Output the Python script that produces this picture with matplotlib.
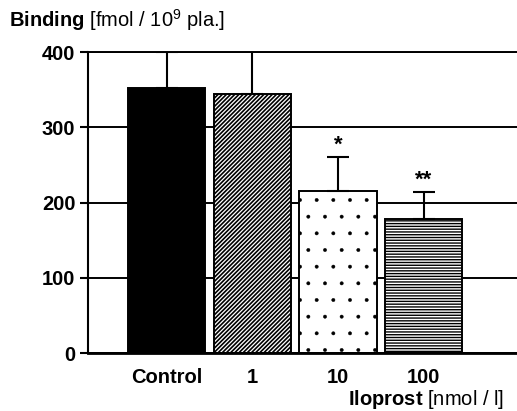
import numpy as np
import matplotlib
matplotlib.use("Agg")
import matplotlib.pyplot as plt

plt.rcParams['font.family'] = ['Liberation Sans', 'DejaVu Sans']
plt.rcParams['mathtext.fontset'] = 'custom'
plt.rcParams['mathtext.rm'] = 'Liberation Sans'
plt.rcParams['mathtext.bf'] = 'Liberation Sans:bold'
plt.rcParams['hatch.linewidth'] = 1.2

# data
groups = ['Control', '1', '10', '100']
binding = [353, 345, 215, 178]
sem_up = [47, 60, 45, 36]
signif = ['', '', '*', '**']
hatches = [None, '////////', '.', '------']
faces = ['black', 'white', 'white', 'white']

fig = plt.figure(figsize=(5.17, 4.11), dpi=100)
ax = fig.add_axes([0.170, 0.141, 0.830, 0.732])

x = np.arange(len(groups))
ax.set_axisbelow(True)
ax.yaxis.grid(True, color='black', linewidth=1.4)

bars = ax.bar(x, binding, width=0.9, color=faces, edgecolor='black',
              linewidth=1.4, zorder=2)
for b, h in zip(bars, hatches):
    if h:
        b.set_hatch(h)
# smaller dots for the stippled bar
if hasattr(bars[2], 'set_hatch_linewidth'):
    bars[2].set_hatch_linewidth(0.3)
    bars[3].set_hatch_linewidth(1.0)

ax.errorbar(x, binding, yerr=[np.zeros(len(x)), sem_up], fmt='none',
            ecolor='black', elinewidth=1.5, capsize=8, capthick=1.5, zorder=3)

for xi, yi, e, s in zip(x, binding, sem_up, signif):
    if s:
        ax.text(xi, yi + e + 2, s, ha='center', va='bottom',
                fontsize=16, fontweight='bold')

ax.set_xlim(-0.92, 4.09)
ax.set_ylim(0, 400)
ax.set_yticks([0, 100, 200, 300, 400])
ax.set_xticks(x)
ax.set_xticklabels(groups, fontsize=14.5, fontweight='bold')
for lab in ax.get_yticklabels():
    lab.set_fontweight('bold')
ax.tick_params(axis='y', length=6, width=1.5, labelsize=14.5, pad=3)
ax.tick_params(axis='x', length=0, pad=11)

ax.spines['right'].set_visible(False)
ax.spines['top'].set_linewidth(1.4)
ax.spines['left'].set_linewidth(1.5)
ax.spines['bottom'].set_linewidth(2)

fig.text(0.018, 0.935, r'$\bf{Binding}$ [fmol / 10$^9$ pla.]', fontsize=14.5,
         ha='left', va='baseline')
fig.text(0.975, 0.015, r'$\bf{Iloprost}$ [nmol / l]', fontsize=14.5,
         ha='right', va='baseline')

fig.savefig('out.png', dpi=100)
